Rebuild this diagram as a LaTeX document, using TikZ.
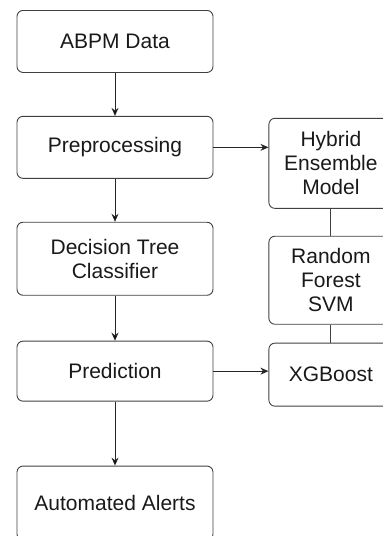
\documentclass[tikz,border=0pt]{standalone}
\usepackage{fontspec}
\setmainfont{Liberation Sans}
\usetikzlibrary{positioning, calc}
\usetikzlibrary{arrows.meta}
\tikzstyle{roundbox}=[rectangle,rounded corners=6pt,draw=black!75,line width=0.9pt,
text=black!90,align=center,font=\fontsize{21}{24}\selectfont,inner sep=0pt]
\tikzstyle{leftbox}=[roundbox,minimum width=196pt]
\tikzstyle{rightbox}=[roundbox,minimum width=124pt]
\tikzstyle{edgepath} = [-{Stealth[length=8pt,width=7pt]},draw=black!85,line width=0.9pt]
\tikzstyle{linkpath} = [-,draw=black!75,line width=0.9pt]

\begin{document}
\begin{tikzpicture}[x=1pt,y=1pt]
    \useasboundingbox (0,0) rectangle (383,-536);
    \clip (0,0) rectangle (383,-536);
    \node[leftbox, minimum height=62pt, anchor=north] (abpm) at (115,-10) {ABPM Data};
    \node[leftbox, minimum height=62pt, below=43pt of abpm] (prep) {Preprocessing};
    \node[leftbox, minimum height=73pt, below=43pt of prep] (tree) {Decision Tree\\Classifier};
    \node[leftbox, minimum height=60pt, below=45pt of tree] (pred) {Prediction};
    \node[leftbox, minimum height=74pt, below=64pt of pred] (alerts) {Automated Alerts};
    \node[rightbox, minimum height=90pt, anchor=north west] (hybrid)
        at ($(prep.north east)+(55,-2)$) {Hybrid\\Ensemble\\Model};
    \node[rightbox, minimum height=88pt, below=27pt of hybrid] (forest) {Random\\Forest\\SVM};
    \node[rightbox, minimum height=63pt, below=18pt of forest] (xgb) {XGBoost};
    
    \path[edgepath]
    (abpm) edge (prep)
    (prep) edge (tree)
    (tree) edge (pred)
    (pred) edge (alerts);
    \draw[edgepath] (prep.east) -- (prep.east -| hybrid.west);
    \draw[edgepath] (pred.east) -- (pred.east -| xgb.west);
    \path[linkpath]
    (hybrid) edge (forest)
    (forest) edge (xgb);
    \end{tikzpicture}
\end{document}
